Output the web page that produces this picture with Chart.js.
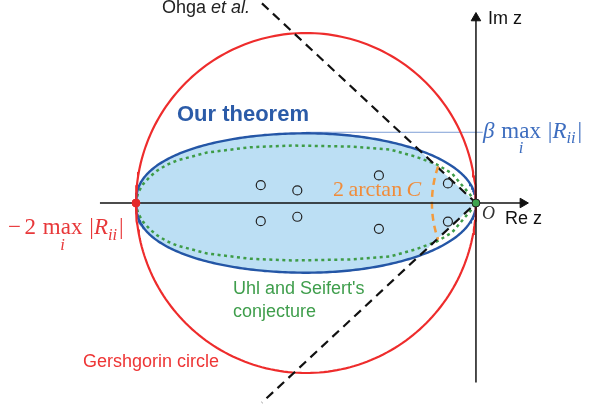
<!DOCTYPE html>
<html>
<head>
<meta charset="utf-8">
<script src="https://cdn.jsdelivr.net/npm/chart.js@4.4.1/dist/chart.umd.min.js"></script>
<style>
  html, body { margin: 0; padding: 0; background: #fff; }
  canvas { display: block; }
</style>
</head>
<body>
<canvas id="chart" width="589" height="411"></canvas>
<script>
// Units: max_i |R_ii| = 1, the origin O is at (0, 0)
const gershCenter = [-1, 0];
const gershRadius = 1;
const theoremAxes = [1, 0.41];          // half width / half height of "Our theorem" region
const theoremExp = [2.35, 2.1];         // fullness of its left / right half
const betaLevel = 0.416;                // beta * max|R_ii|

// Uhl and Seifert's conjecture, upper boundary
const usRe = [-2.0, -1.988, -1.959, -1.918, -1.876, -1.818, -1.759, -1.582, -1.329, -1.076, -0.741, -0.506, -0.359, -0.229, -0.141, -0.076, -0.035, 0];
const usIm = [0, 0.06, 0.11, 0.155, 0.19, 0.225, 0.25, 0.297, 0.328, 0.338, 0.332, 0.315, 0.274, 0.226, 0.174, 0.097, 0.050, 0];

// eigenvalues
const eigRe = [-1.266, -1.051, -0.571, -0.165, -1.266, -1.051, -0.571, -0.165];
const eigIm = [0.105, 0.074, 0.162, 0.115, -0.107, -0.081, -0.152, -0.109];

// Ohga et al. wedge: end point of the upper ray
const ohgaEnd = [-1.259, 1.174];

// 2 arctan C arc
const arcCenter = [0.394, 0];
const arcRadius = 0.653;
const arcHalfAngle = 19.2;   // degrees

// axes
const reAxis = [-2.212, 0.276];
const imAxis = [-1.056, 1.088];

// ---- build shapes ----
function ring(cx, cy, rx, ry, a0, a1, n, expL, expR) {
  const pts = [];
  for (let i = 0; i <= n; i++) {
    const a = (a0 + (a1 - a0) * i / n) * Math.PI / 180;
    const c = Math.cos(a), s = Math.sin(a);
    const e = expL ? (c < 0 ? expL : expR) : 2;
    pts.push({ x: cx + rx * c, y: cy + ry * Math.sign(s) * Math.pow(Math.abs(s), 2 / e) });
  }
  return pts;
}

const gersh = ring(gershCenter[0], gershCenter[1], gershRadius, gershRadius, 0, 360, 240);
const theorem = ring(gershCenter[0], 0, theoremAxes[0], theoremAxes[1], 0, 360, 360, theoremExp[0], theoremExp[1]);

// fill = theorem region cut by the wedge
const slope = ohgaEnd[1] / -ohgaEnd[0];
const upperFill = ring(gershCenter[0], 0, theoremAxes[0], theoremAxes[1], 180, 0, 400, theoremExp[0], theoremExp[1])
  .map(p => ({ x: p.x, y: Math.min(p.y, -p.x * slope) }));
const lowerFill = upperFill.map(p => ({ x: p.x, y: -p.y }));

const usPts = usRe.map((x, i) => ({ x, y: usIm[i] }))
  .concat(usRe.slice().reverse().map((x, i) => ({ x, y: -usIm[usIm.length - 1 - i] })));

const wedge = [{ x: ohgaEnd[0], y: ohgaEnd[1] }, { x: 0, y: 0 }, { x: ohgaEnd[0], y: -ohgaEnd[1] }];
const arc = ring(arcCenter[0], arcCenter[1], arcRadius, arcRadius, 180 - arcHalfAngle, 180 + arcHalfAngle, 40);
const eig = eigRe.map((x, i) => ({ x, y: eigIm[i] }));

// ---- labels ----
const SANS = '"Liberation Sans", Arial, sans-serif';
const SERIF = '"Liberation Serif", "Times New Roman", serif';

function drawRuns(ctx, x, y, runs, size, family) {
  let cx = x;
  runs.forEach(r => {
    if (r.gap) { cx += r.gap * size; return; }
    const s = r.sub ? size * 0.72 : size;
    ctx.font = (r.it ? 'italic ' : '') + (r.bold ? 'bold ' : '') + s + 'px ' + family;
    const w = ctx.measureText(r.t).width;
    ctx.fillText(r.t, cx, y + (r.sub ? size * 0.22 : 0));
    if (r.under) {
      ctx.font = 'italic ' + (size * 0.72) + 'px ' + family;
      const uw = ctx.measureText(r.under).width;
      ctx.fillText(r.under, cx + (w - uw) / 2, y + size * 0.66);
    }
    cx += w;
  });
}

const maxR = [{ t: 'max', under: 'i' }, { gap: 0.3 }, { t: '|' }, { t: 'R', it: true }, { t: 'ii', it: true, sub: true }, { gap: 0.08 }, { t: '|' }];

const labelPlugin = {
  id: 'labels',
  afterDraw(chart) {
    const ctx = chart.ctx;
    const px = (x, y) => [chart.scales.x.getPixelForValue(x), chart.scales.y.getPixelForValue(y)];
    ctx.save();
    ctx.textBaseline = 'alphabetic';
    let p;

    p = px(-1.847, 1.115);
    ctx.fillStyle = '#222';
    drawRuns(ctx, p[0], p[1], [{ t: 'Ohga ' }, { t: 'et al.', it: true }], 18, SANS);

    p = px(0.071, 1.05);
    ctx.fillStyle = '#111';
    drawRuns(ctx, p[0], p[1], [{ t: 'Im z' }], 18, SANS);

    p = px(0.171, -0.121);
    drawRuns(ctx, p[0], p[1], [{ t: 'Re z' }], 18, SANS);

    p = px(0.035, -0.097);
    ctx.fillStyle = '#333';
    drawRuns(ctx, p[0], p[1], [{ t: 'O', it: true }], 18, SERIF);

    p = px(-1.759, 0.485);
    ctx.fillStyle = '#2b5ba8';
    drawRuns(ctx, p[0], p[1], [{ t: 'Our theorem', bold: true }], 22, SANS);

    p = px(0.041, 0.385);
    ctx.fillStyle = '#3d6dbf';
    drawRuns(ctx, p[0], p[1], [{ t: 'β', it: true }, { gap: 0.3 }].concat(maxR), 23, SERIF);

    p = px(-0.841, 0.044);
    ctx.fillStyle = '#f08c3a';
    drawRuns(ctx, p[0], p[1], [{ t: '2' }, { gap: 0.2 }, { t: 'arctan' }, { gap: 0.2 }, { t: 'C', it: true }], 22, SERIF);

    p = px(-2.753, -0.185);
    ctx.fillStyle = '#e8383a';
    drawRuns(ctx, p[0], p[1], [{ t: '−' }, { gap: 0.15 }, { t: '2' }, { gap: 0.3 }].concat(maxR), 23, SERIF);

    ctx.fillStyle = '#3f9e4c';
    p = px(-1.429, -0.538);
    drawRuns(ctx, p[0], p[1], [{ t: "Uhl and Seifert's" }], 18, SANS);
    p = px(-1.429, -0.668);
    drawRuns(ctx, p[0], p[1], [{ t: 'conjecture' }], 18, SANS);

    p = px(-2.312, -0.962);
    ctx.fillStyle = '#ee3535';
    drawRuns(ctx, p[0], p[1], [{ t: 'Gershgorin circle' }], 18, SANS);

    ctx.restore();
  }
};

const line = (data, color, width, extra) => Object.assign({
  data, showLine: true, borderColor: color, borderWidth: width,
  pointRadius: 0, fill: false, tension: 0
}, extra);

new Chart(document.getElementById('chart'), {
  type: 'scatter',
  data: {
    datasets: [
      line(upperFill, 'rgba(0,0,0,0)', 0, { fill: 'origin', backgroundColor: '#bcdff4', order: 20 }),
      line(lowerFill, 'rgba(0,0,0,0)', 0, { fill: 'origin', backgroundColor: '#bcdff4', order: 19 }),
      line([{ x: gershCenter[0], y: betaLevel }, { x: 0.04, y: betaLevel }], '#7f9fd6', 1, { order: 18 }),
      line(usPts, '#3e9c47', 2.5, { borderDash: [3, 3.5], order: 15 }),
      line(theorem, '#2456a6', 2.4, { order: 14 }),
      line(gersh, '#ee2c2c', 2.2, { order: 13 }),
      line(wedge, '#111', 2.2, { borderDash: [9, 6], order: 12 }),
      line(arc, '#f39a3c', 2.5, { borderDash: [7, 5], order: 11 }),
      line([{ x: reAxis[0], y: 0 }, { x: reAxis[1], y: 0 }], '#111', 1.5, {
        pointRadius: [0, 5.5], pointStyle: 'triangle', rotation: 90,
        pointBackgroundColor: '#111', pointBorderColor: '#111', pointBorderWidth: 1, order: 10
      }),
      line([{ x: 0, y: imAxis[0] }, { x: 0, y: imAxis[1] }], '#111', 1.5, {
        pointRadius: [0, 5.5], pointStyle: 'triangle', rotation: 0,
        pointBackgroundColor: '#111', pointBorderColor: '#111', pointBorderWidth: 1, order: 9
      }),
      { data: eig, showLine: false, pointRadius: 4.5, pointBorderWidth: 1.2,
        pointBorderColor: '#222', pointBackgroundColor: 'rgba(0,0,0,0)', order: 5 },
      { data: [{ x: -2, y: 0 }], showLine: false, pointRadius: 4,
        pointBackgroundColor: '#e52a2a', pointBorderColor: '#e52a2a', order: 4 },
      { data: [{ x: 0, y: 0 }], showLine: false, pointRadius: 4, pointBorderWidth: 1,
        pointBackgroundColor: '#3fa34d', pointBorderColor: '#222', order: 3 }
    ]
  },
  options: {
    responsive: false,
    animation: false,
    events: [],
    layout: { padding: 0, autoPadding: false },
    plugins: { legend: { display: false }, tooltip: { enabled: false } },
    scales: {
      x: { type: 'linear', display: false, min: -2.8, max: 0.665, bounds: 'data' },
      y: { type: 'linear', display: false, min: -1.2235, max: 1.1941, bounds: 'data' }
    }
  },
  plugins: [labelPlugin]
});
</script>
</body>
</html>
